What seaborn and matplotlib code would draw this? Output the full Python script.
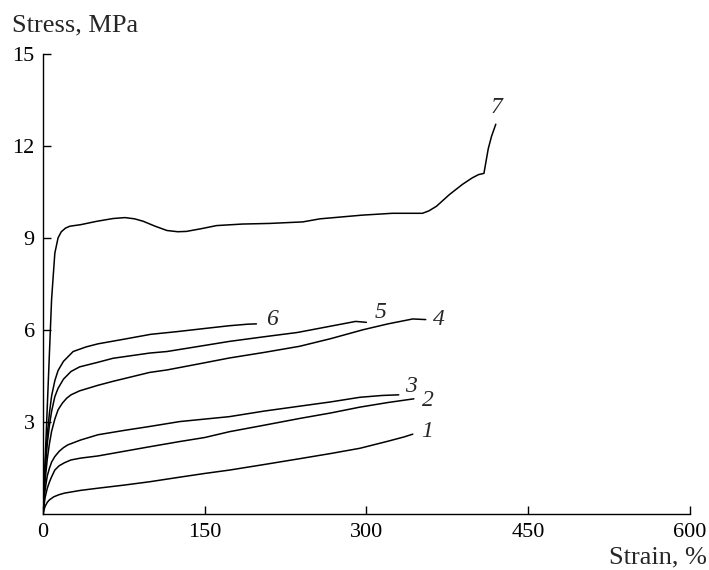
import pandas as pd
import numpy as np
import seaborn as sns
import matplotlib.pyplot as plt

strain_1 = [0, 1, 2, 4, 6, 10, 15, 20, 35, 51, 75, 99, 127, 150, 173, 205, 238,
            267, 294, 320, 335, 343]
stress_1 = [0, 0.15, 0.26, 0.39, 0.47, 0.57, 0.64, 0.69, 0.78, 0.85, 0.95, 1.06,
            1.21, 1.33, 1.44, 1.62, 1.81, 1.98, 2.15, 2.38, 2.52, 2.61]

strain_2 = [0, 1, 2, 4, 6, 8, 11, 15, 20, 26, 35, 51, 75, 99, 127, 150, 173, 205,
            238, 267, 294, 320, 344]
stress_2 = [0, 0.3, 0.55, 0.85, 1.05, 1.22, 1.44, 1.58, 1.68, 1.77, 1.83, 1.9,
            2.05, 2.2, 2.37, 2.5, 2.69, 2.9, 3.12, 3.3, 3.49, 3.64, 3.76]

strain_3 = [0, 1, 2, 4, 6, 8, 11, 15, 19, 23, 35, 51, 75, 99, 127, 150, 173, 205,
            238, 267, 294, 315, 330]
stress_3 = [0, 0.45, 0.8, 1.25, 1.5, 1.7, 1.88, 2.05, 2.17, 2.26, 2.42, 2.59, 2.73,
            2.86, 3.02, 3.1, 3.18, 3.36, 3.52, 3.66, 3.81, 3.87, 3.89]

strain_4 = [0, 1, 2, 4, 6, 8, 11, 14, 18, 22, 26, 34, 51, 65, 99, 115, 145, 173,
            205, 238, 267, 297, 320, 343, 355]
stress_4 = [0, 0.6, 1.1, 1.8, 2.3, 2.7, 3.1, 3.4, 3.62, 3.78, 3.89, 4.02, 4.2, 4.33,
            4.62, 4.7, 4.9, 5.09, 5.27, 5.47, 5.72, 6.01, 6.2, 6.36, 6.34]

strain_5 = [0, 1, 2, 4, 6, 8, 11, 14, 19, 26, 34, 51, 65, 99, 115, 145, 173, 205,
            236, 266, 290, 300]
stress_5 = [0, 0.8, 1.4, 2.3, 2.9, 3.35, 3.83, 4.1, 4.4, 4.65, 4.8, 4.95, 5.08,
            5.25, 5.3, 5.47, 5.63, 5.78, 5.92, 6.12, 6.28, 6.25]

strain_6 = [0, 1, 2, 4, 6, 8, 11, 14, 19, 28, 40, 51, 75, 100, 125, 150, 173, 190, 198]
stress_6 = [0, 0.9, 1.6, 2.6, 3.3, 3.85, 4.35, 4.68, 4.98, 5.3, 5.45, 5.55, 5.7,
            5.86, 5.95, 6.05, 6.14, 6.19, 6.2]

strain_7 = [0, 4, 8, 11, 14, 17, 21, 25, 35, 50, 65, 76, 85, 93, 104, 115, 125, 133,
            147, 161, 185, 210, 241, 257, 296, 324, 352, 358, 365, 377, 389, 398,
            404, 409, 411, 413, 416, 420]
stress_7 = [0, 3.5, 7.0, 8.5, 9.0, 9.2, 9.32, 9.38, 9.43, 9.54, 9.63, 9.66, 9.62,
            9.54, 9.38, 9.24, 9.2, 9.21, 9.3, 9.4, 9.45, 9.47, 9.52, 9.62, 9.74, 9.8,
            9.8, 9.88, 10.03, 10.41, 10.74, 10.95, 11.06, 11.1, 11.5, 11.9, 12.3, 12.7]

labels = ["1", "2", "3", "4", "5", "6", "7"]
label_x = [356, 357, 341, 367, 313, 212, 421]
label_y = [2.7, 3.7, 4.15, 6.33, 6.57, 6.35, 13.25]

curves = [(strain_1, stress_1), (strain_2, stress_2), (strain_3, stress_3),
          (strain_4, stress_4), (strain_5, stress_5), (strain_6, stress_6),
          (strain_7, stress_7)]

sns.set_style("ticks")
plt.rcParams['font.family'] = ['Liberation Serif', 'DejaVu Serif']
plt.rcParams['xtick.direction'] = 'in'
plt.rcParams['ytick.direction'] = 'in'

fig = plt.figure(figsize=(7.09, 5.70), dpi=100)
ax = fig.add_axes([0.0606, 0.0977, 0.9124, 0.8083])

frames = []
for lab, (sx, sy) in zip(labels, curves):
    frames.append(pd.DataFrame({"strain": sx, "stress": sy, "curve": lab}))
df = pd.concat(frames, ignore_index=True)

sns.lineplot(data=df, x="strain", y="stress", units="curve", estimator=None,
             sort=False, color="black", linewidth=1.1, ax=ax, legend=False)

for lab, lx, ly in zip(labels, label_x, label_y):
    ax.text(lx, ly, lab, fontsize=17, style="italic", ha="center", va="center")

ax.set_xlim(0, 600)
ax.set_ylim(0, 15)
ax.set_xticks([0, 150, 300, 450, 600])
ax.set_yticks([3, 6, 9, 12, 15])
ax.tick_params(labelsize=16, length=6, width=1, colors="black", pad=6)
ax.set_xlabel("")
ax.set_ylabel("")
sns.despine(ax=ax)
for s in ["left", "bottom"]:
    ax.spines[s].set_linewidth(1)
    ax.spines[s].set_color("black")

fig.text(12 / 709, 1 - 25 / 570, "Stress, MPa", fontsize=19, ha="left", va="center")
fig.text(707 / 709, 1 - 557 / 570, "Strain, %", fontsize=19, ha="right", va="center")

plt.savefig("out.png", dpi=100)
plt.close()
